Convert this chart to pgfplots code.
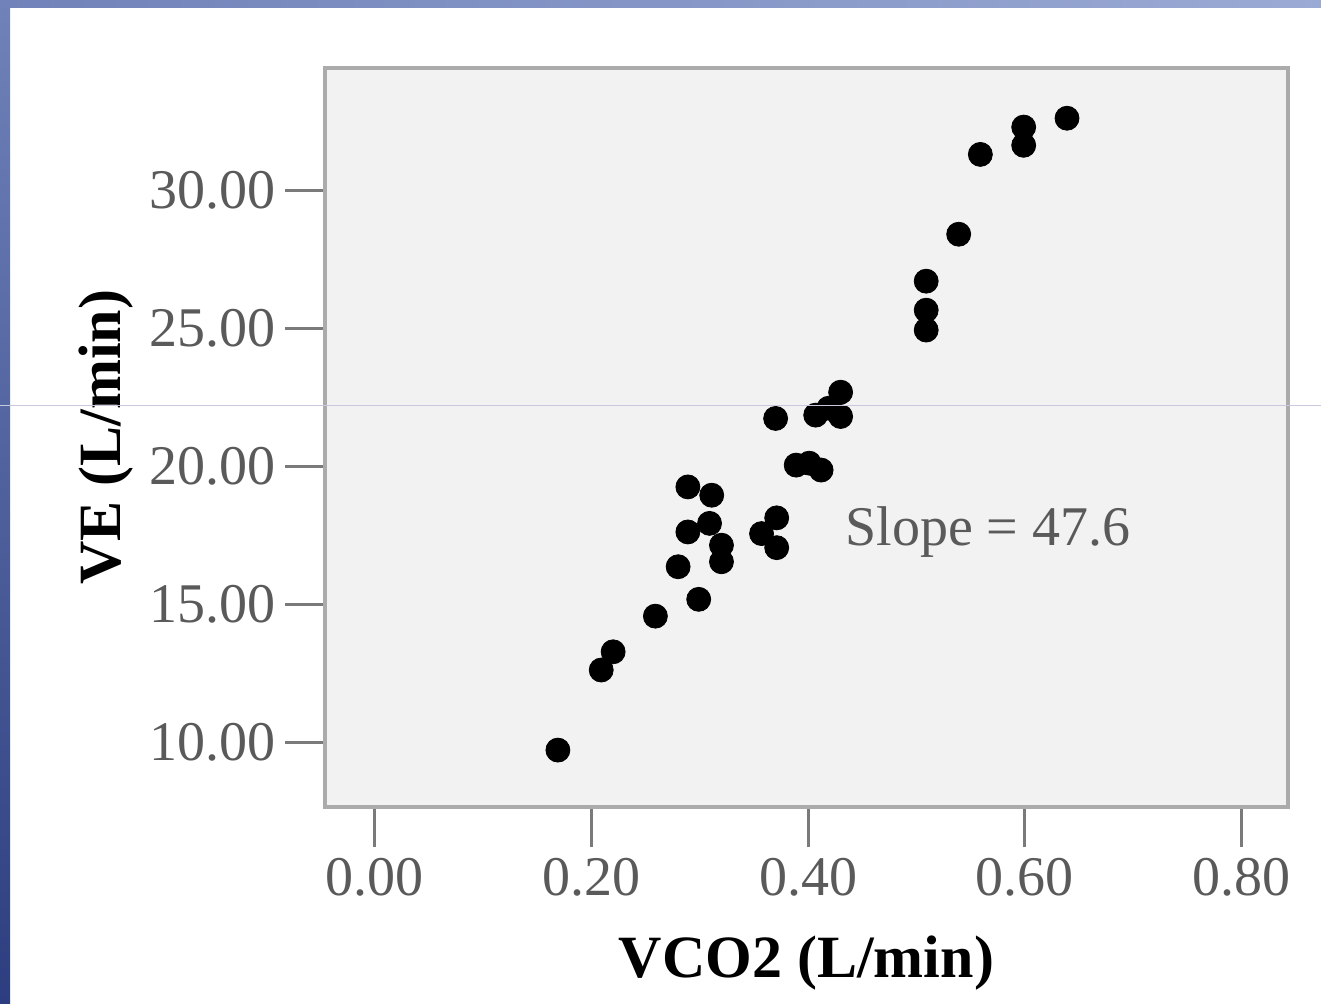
\documentclass[border=0pt]{standalone}
\usepackage{pgfplots}
\pgfplotsset{compat=1.18}
\usepackage{fontspec}
\setmainfont{Liberation Serif}
\definecolor{boxgray}{HTML}{ABABAB}
\definecolor{tickgray}{HTML}{7A7A7A}
\definecolor{labgray}{HTML}{5A5A5A}
\definecolor{plotbg}{HTML}{F2F2F2}
\begin{document}
\begin{tikzpicture}[x=1pt,y=1pt]
\path[use as bounding box, fill=white] (0,0) rectangle (660.5,502);
\shade[top color={rgb,255:red,112;green,130;blue,185}, bottom color={rgb,255:red,45;green,62;blue,128}] (0,0) rectangle (5,502);
\shade[left color={rgb,255:red,112;green,130;blue,185}, right color={rgb,255:red,155;green,170;blue,212}] (0,498) rectangle (660.5,502);
\begin{axis}[
  at={(162.5pt,98.5pt)}, anchor=south west,
  scale only axis, width=481.5pt, height=369.5pt,
  xmin=-0.046, xmax=0.843, ymin=7.66, ymax=34.42,
  axis background/.style={fill=plotbg},
  axis line style={boxgray, line width=1.8pt},
  xtick={0,0.2,0.4,0.6,0.8}, ytick={10,15,20,25,30},
  tick pos=left, tick align=outside,
  major tick length=20pt,
  tick style={tickgray, line width=1.5pt},
  /pgf/number format/.cd, fixed, fixed zerofill, precision=2, assume math mode=true,
  /pgfplots/.cd,
  ticklabel style={font=\fontsize{28}{32}\selectfont, text=labgray},
  xticklabel style={yshift=-2pt},
  yticklabel style={xshift=-1pt},
  xlabel={\textbf{VCO2 (L/min)}},
  ylabel={\textbf{VE (L/min)}},
  label style={font=\fontsize{30}{34}\selectfont, text=black},
  xlabel style={at={(axis description cs:0.5,-0.2110)}, anchor=center},
  ylabel style={at={(axis description cs:-0.2270,0.5)}, anchor=center},
  clip=false,
]
\addplot[only marks, mark=*, mark size=6pt, mark options={fill=black, draw=black}] table {
x y
0.169 9.72
0.209 12.62
0.220 13.28
0.259 14.57
0.280 16.36
0.299 15.18
0.289 19.25
0.311 18.95
0.289 17.62
0.309 17.93
0.320 17.14
0.320 16.54
0.357 17.56
0.371 18.13
0.371 17.05
0.370 21.73
0.389 20.04
0.401 20.11
0.412 19.86
0.407 21.85
0.419 22.10
0.430 22.68
0.430 21.80
0.509 26.70
0.509 25.65
0.509 24.93
0.539 28.40
0.559 31.29
0.599 32.28
0.599 31.62
0.639 32.60
};
\node[anchor=base, font=\fontsize{28}{32}\selectfont, text=labgray] at (axis cs:0.566,17.14) {Slope = 47.6};
\end{axis}
\draw[color={rgb,255:red,200;green,200;blue,220}, line width=0.5pt] (0,299) -- (660.5,299);
\end{tikzpicture}
\end{document}
